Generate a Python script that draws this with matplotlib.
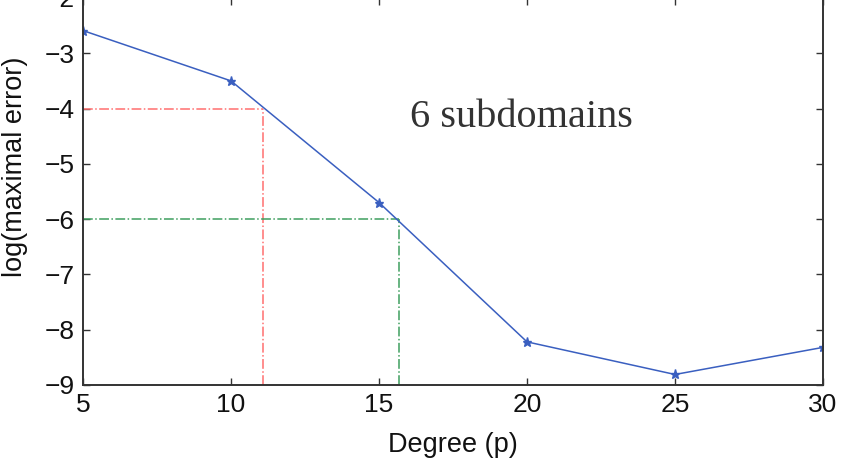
import matplotlib
matplotlib.use("Agg")
import matplotlib.pyplot as plt

degree = [5, 10, 15, 20, 25, 30]
log_err = [-2.59, -3.50, -5.70, -8.22, -8.81, -8.32]

# reference levels and where the curve crosses them
red_level, red_p = -4, 11.07
green_level, green_p = -6, 15.67

xticks = [5, 10, 15, 20, 25, 30]
yticks = [-9, -8, -7, -6, -5, -4, -3, -2]

plt.rcParams['font.family'] = ['Liberation Sans', 'DejaVu Sans']

fig = plt.figure(figsize=(8.42, 4.62), dpi=100)
ax = fig.add_axes([0.0986, 0.1667, 0.8788, 0.8377])

ax.plot([5, red_p], [red_level, red_level], linestyle='-.', color='#ff6f6f', lw=1.1)
ax.plot([red_p, red_p], [-9, red_level], linestyle='-.', color='#ff6f6f', lw=1.1)
ax.plot([5, green_p], [green_level, green_level], linestyle='-.', color='#3f9f5f', lw=1.1)
ax.plot([green_p, green_p], [-9, green_level], linestyle='-.', color='#3f9f5f', lw=1.1)

ax.plot(degree, log_err, color='#3a5fc0', lw=1.1, marker='*', markersize=6.5)

ax.text(19.8, -4.33, "6 subdomains", family='Liberation Serif', fontsize=29,
        color='#333333', va='baseline', ha='center')

ax.set_xlim(5, 30)
ax.set_ylim(-9, -2)
ax.set_xticks(xticks)
ax.set_yticks(yticks)
ax.set_yticklabels([str(t).replace('-', '\u2212') for t in yticks])
ax.tick_params(direction='in', top=True, right=True, length=5, width=1,
               color='#333333', labelsize=19, labelcolor='#111111', pad=6)
for s in ax.spines.values():
    s.set_linewidth(1.4)
    s.set_color('#333333')

ax.set_xlabel("Degree (p)", fontsize=19.5, color='#111111', va='top')
ax.set_ylabel("log(maximal error)", fontsize=19.5, color='#111111')
ax.yaxis.set_label_coords(-0.074, 0.565)
ax.xaxis.set_label_coords(0.5, -0.122)

fig.savefig("out.png", dpi=100)
